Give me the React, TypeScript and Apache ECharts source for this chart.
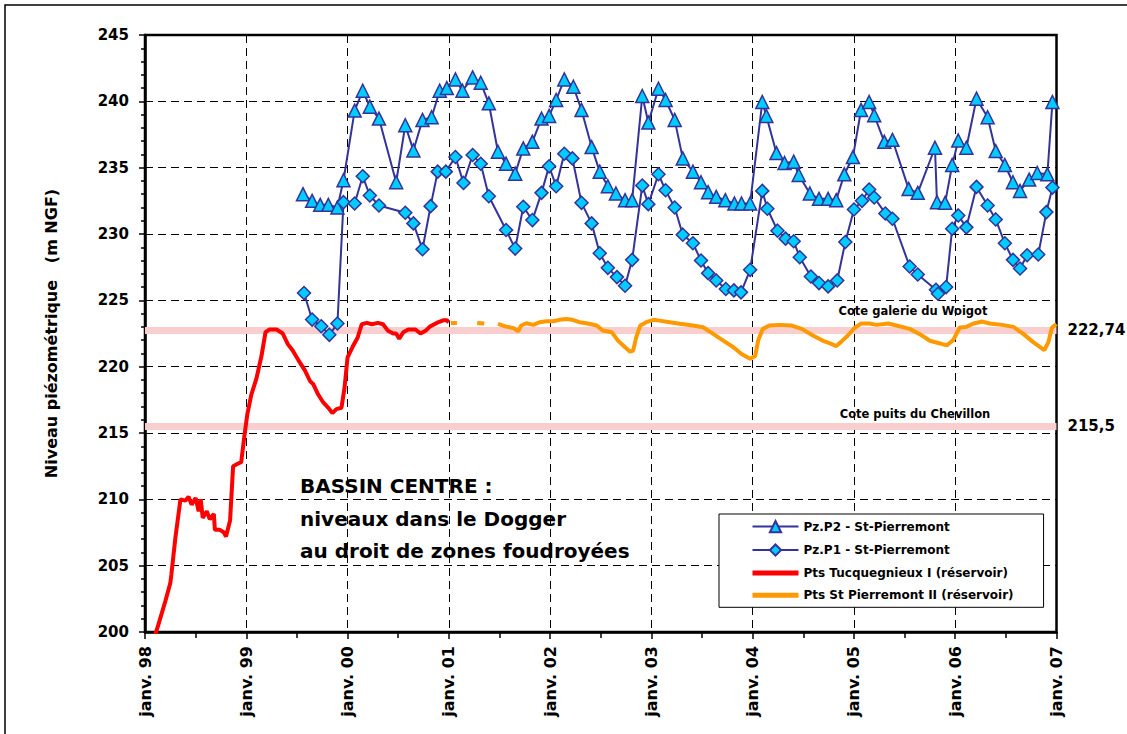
import React, { useEffect, useRef } from "react";
import * as echarts from "echarts";

// ---- Data (decimal years, m NGF) ----
const YEAR_MIN = 1998;
const YEAR_MAX = 2007;
const LEVEL_MIN = 200;
const LEVEL_MAX = 245;

const P2_NAME = "Pz.P2 - St-Pierremont";
const P1_NAME = "Pz.P1 - St-Pierremont";
const RED_NAME = "Pts Tucquegnieux I (réservoir)";
const ORANGE_NAME = "Pts St Pierremont II (réservoir)";

const P2_DATES = [
  1999.56, 1999.65, 1999.73, 1999.81, 1999.9, 1999.96, 2000.07, 2000.15, 2000.22, 2000.31,
  2000.48, 2000.57, 2000.65, 2000.74, 2000.83, 2000.91, 2000.98, 2001.065, 2001.135, 2001.235,
  2001.315, 2001.395, 2001.485, 2001.565, 2001.655, 2001.735, 2001.825, 2001.915, 2001.99, 2002.06,
  2002.14, 2002.23, 2002.31, 2002.41, 2002.49, 2002.57, 2002.65, 2002.74, 2002.81, 2002.91,
  2002.97, 2003.07, 2003.14, 2003.23, 2003.31, 2003.41, 2003.49, 2003.56, 2003.64, 2003.73,
  2003.82, 2003.89, 2003.975, 2004.095, 2004.135, 2004.235, 2004.315, 2004.405, 2004.455, 2004.565,
  2004.655, 2004.745, 2004.825, 2004.905, 2004.99, 2005.07, 2005.15, 2005.2, 2005.3, 2005.38,
  2005.54, 2005.63, 2005.8, 2005.82, 2005.9, 2005.97, 2006.03, 2006.11, 2006.21, 2006.32,
  2006.4, 2006.49, 2006.57, 2006.64, 2006.73, 2006.81, 2006.91, 2006.96,
];
const P2_LEVELS = [
  233.0, 232.5, 232.2, 232.2, 232.0, 234.05, 239.3, 240.8, 239.6, 238.7,
  233.9, 238.2, 236.3, 238.6, 238.8, 240.8, 241.0, 241.65, 240.8, 241.8,
  241.4, 239.85, 236.2, 235.3, 234.55, 236.45, 236.95, 238.7, 238.9, 240.1,
  241.65, 241.1, 239.35, 236.55, 234.7, 233.6, 233.05, 232.55, 232.55, 240.4,
  238.4, 240.95, 240.1, 238.6, 235.7, 234.7, 233.9, 233.15, 232.8, 232.55,
  232.3, 232.3, 232.3, 239.95, 238.9, 236.1, 235.35, 235.45, 234.45, 233.05,
  232.65, 232.65, 232.55, 234.5, 235.8, 239.35, 239.95, 238.95, 236.95, 237.1,
  233.4, 233.1, 236.5, 232.4, 232.35, 235.2, 237.05, 236.5, 240.2, 238.8,
  236.25, 235.2, 233.9, 233.25, 234.1, 234.6, 234.5, 239.95,
];

const P1_DATES = [
  1999.57, 1999.65, 1999.74, 1999.82, 1999.9, 1999.96, 2000.07, 2000.15, 2000.22, 2000.31,
  2000.57, 2000.65, 2000.74, 2000.82, 2000.89, 2000.97, 2001.065, 2001.145, 2001.235, 2001.315,
  2001.395, 2001.565, 2001.655, 2001.735, 2001.825, 2001.915, 2001.99, 2002.06, 2002.14, 2002.22,
  2002.31, 2002.41, 2002.49, 2002.57, 2002.66, 2002.74, 2002.81, 2002.91, 2002.97, 2003.07,
  2003.14, 2003.23, 2003.31, 2003.41, 2003.49, 2003.56, 2003.64, 2003.735, 2003.815, 2003.885,
  2003.975, 2004.095, 2004.145, 2004.245, 2004.325, 2004.405, 2004.465, 2004.575, 2004.655, 2004.745,
  2004.835, 2004.915, 2005.0, 2005.08, 2005.15, 2005.2, 2005.31, 2005.38, 2005.55, 2005.63,
  2005.81, 2005.83, 2005.91, 2005.97, 2006.03, 2006.11, 2006.21, 2006.32, 2006.4, 2006.49,
  2006.57, 2006.64, 2006.71, 2006.82, 2006.9, 2006.96,
];
const P1_LEVELS = [
  225.55, 223.55, 223.05, 222.4, 223.25, 232.4, 232.3, 234.35, 232.9, 232.15,
  231.6, 230.8, 228.85, 232.1, 234.7, 234.7, 235.8, 233.85, 235.95, 235.3,
  232.85, 230.3, 228.9, 232.05, 231.05, 233.1, 235.1, 233.6, 236.05, 235.7,
  232.35, 230.8, 228.55, 227.45, 226.75, 226.1, 228.05, 233.65, 232.25, 234.5,
  233.3, 232.0, 229.95, 229.3, 228.0, 227.05, 226.5, 225.85, 225.75, 225.6,
  227.3, 233.25, 231.9, 230.25, 229.65, 229.45, 228.25, 226.8, 226.3, 226.05,
  226.5, 229.4, 231.85, 232.5, 233.35, 232.75, 231.55, 231.15, 227.55, 226.95,
  225.8, 225.5, 226.0, 230.4, 231.4, 230.5, 233.55, 232.15, 231.1, 229.3,
  228.05, 227.4, 228.4, 228.45, 231.65, 233.5,
];

const RED_DATES = [
  1998.08, 1998.13, 1998.2, 1998.25, 1998.26, 1998.3, 1998.35, 1998.4, 1998.43, 1998.46,
  1998.5, 1998.53, 1998.55, 1998.57, 1998.61, 1998.64, 1998.68, 1998.69, 1998.74, 1998.78,
  1998.8, 1998.84, 1998.87, 1998.92, 1998.95, 1998.98, 1999.01, 1999.05, 1999.1, 1999.15,
  1999.19, 1999.23, 1999.3, 1999.36, 1999.41, 1999.46, 1999.53, 1999.58, 1999.63, 1999.66,
  1999.71, 1999.76, 1999.81, 1999.85, 1999.89, 1999.94, 1999.97, 2000.0, 2000.05, 2000.1,
  2000.14, 2000.19, 2000.24, 2000.3, 2000.35, 2000.4, 2000.45, 2000.48, 2000.51, 2000.55,
  2000.6, 2000.67, 2000.72, 2000.77, 2000.81, 2000.88, 2000.95, 2000.98, 2001.0,
];
const RED_LEVELS = [
  199.3, 200.5, 202.3, 203.7, 204.3, 207.1, 210.0, 209.9, 210.2, 209.6,
  210.1, 209.1, 210.0, 208.6, 209.1, 208.5, 208.9, 207.7, 207.7, 207.5,
  207.2, 208.4, 212.5, 212.7, 212.8, 214.7, 216.4, 217.9, 219.1, 220.8,
  222.6, 222.8, 222.8, 222.5, 221.7, 221.2, 220.3, 219.7, 218.9, 218.7,
  217.9, 217.3, 216.9, 216.5, 216.8, 216.9, 218.4, 220.7, 221.5, 222.2,
  223.2, 223.3, 223.2, 223.3, 223.2, 222.7, 222.5, 222.5, 222.1, 222.6,
  222.8, 222.8, 222.5, 222.7, 223.0, 223.3, 223.5, 223.5, 223.35,
];

// null = gap in the record
const ORANGE_DATES = [
  2001.02, 2001.08, 2001.18, 2001.28, 2001.35, 2001.42, 2001.485, 2001.565, 2001.635, 2001.685,
  2001.715, 2001.765, 2001.835, 2001.895, 2001.965, 2002.03, 2002.09, 2002.16, 2002.22, 2002.29,
  2002.36, 2002.46, 2002.52, 2002.61, 2002.67, 2002.74, 2002.79, 2002.82, 2002.85, 2002.89,
  2002.95, 2003.02, 2003.08, 2003.18, 2003.28, 2003.41, 2003.51, 2003.61, 2003.71, 2003.81,
  2003.89, 2003.975, 2004.025, 2004.055, 2004.1, 2004.165, 2004.265, 2004.385, 2004.485, 2004.595,
  2004.695, 2004.765, 2004.825, 2004.87, 2004.94, 2005.01, 2005.07, 2005.155, 2005.22, 2005.34,
  2005.42, 2005.55, 2005.65, 2005.75, 2005.85, 2005.915, 2005.98, 2006.045, 2006.11, 2006.18,
  2006.27, 2006.34, 2006.46, 2006.575, 2006.675, 2006.77, 2006.88, 2006.92, 2006.955, 2007.0,
];
const ORANGE_LEVELS = [
  223.3, 223.3, null, 223.3, 223.25, null, 223.23, 223.02, 222.92, 222.67,
  223.1, 223.27, 223.15, 223.35, 223.42, 223.42, 223.53, 223.6, 223.53, 223.35,
  223.27, 223.1, 222.72, 222.59, 221.96, 221.46, 221.13, 221.21, 222.21, 223.1,
  223.35, 223.53, 223.47, 223.35, 223.23, 223.1, 222.97, 222.47, 221.96, 221.46,
  220.96, 220.6, 220.8, 222.0, 222.85, 223.1, 223.15, 223.1, 222.85, 222.35,
  221.95, 221.75, 221.55, 221.85, 222.35, 222.95, 223.25, 223.25, 223.15, 223.25,
  223.1, 222.85, 222.45, 221.95, 221.75, 221.6, 222.0, 222.95, 223.0, 223.25,
  223.4, 223.25, 223.15, 223.0, 222.45, 221.85, 221.25, 221.85, 222.95, 223.2,
];

const REF_LEVELS = [222.74, 215.5];
const REF_LABELS = ["222,74", "215,5"];
const REF_NAMES = ["Cote galerie du Woigot", "Cote puits du Chevillon"];

const TITLE_LINES = ["BASSIN CENTRE :", "niveaux dans le Dogger", "au droit de zones foudroyées"];
const Y_NAME = "Niveau piézométrique   (m NGF)";

const FONT = "DejaVu Sans";
const NAVY = "#333399";
const CYAN = "#00CCFF";

const zip = (xs: number[], ys: (number | null)[]) =>
  xs.map((x, i) => [x, ys[i] === null ? "-" : ys[i]]);

export default function App() {
  const ref = useRef<HTMLDivElement>(null);

  useEffect(() => {
    if (!ref.current) return;
    const chart = echarts.init(ref.current, undefined, { renderer: "svg" });

    const dashed = { show: true, lineStyle: { color: "#000", width: 1, type: [8, 5] } };

    const option: any = {
      animation: false,
      backgroundColor: "#fff",
      textStyle: { fontFamily: FONT },
      grid: {
        left: 145,
        right: 70.5,
        top: 35,
        bottom: 102,
        show: true,
        borderColor: "#000",
        borderWidth: 2.5,
        backgroundColor: "transparent",
        containLabel: false,
        outerBoundsMode: "none",
      },
      xAxis: {
        type: "value",
        min: YEAR_MIN,
        max: YEAR_MAX,
        interval: 1,
        axisLine: { show: true, lineStyle: { color: "#000", width: 2.5 } },
        axisTick: { show: true, length: 7, lineStyle: { color: "#000", width: 1.5 } },
        minorTick: { show: true, splitNumber: 2, length: 6, lineStyle: { color: "#000", width: 1.5 } },
        axisLabel: {
          rotate: 90,
          margin: 14,
          fontSize: 16,
          fontWeight: "bold",
          color: "#000",
          fontFamily: FONT,
          formatter: (v: number) => "janv. " + String(Math.round(v) % 100).padStart(2, "0"),
        },
        splitLine: dashed,
      },
      yAxis: {
        type: "value",
        min: LEVEL_MIN,
        max: LEVEL_MAX,
        interval: 5,
        name: Y_NAME,
        nameLocation: "middle",
        nameGap: 86,
        nameTextStyle: { fontSize: 16, fontWeight: "bold", color: "#000", fontFamily: FONT },
        axisLine: { show: true, lineStyle: { color: "#000", width: 2.5 } },
        axisTick: { show: true, length: 6, lineStyle: { color: "#000", width: 1.5 } },
        minorTick: { show: true, splitNumber: 5, length: 4, lineStyle: { color: "#000", width: 1.5 } },
        axisLabel: { margin: 16, fontSize: 15, fontWeight: "bold", color: "#000", fontFamily: FONT },
        splitLine: dashed,
      },
      legend: {
        orient: "vertical",
        left: 719,
        top: 514,
        backgroundColor: "#fff",
        borderColor: "#000",
        borderWidth: 1,
        padding: [6, 30, 6, 31],
        itemWidth: 46,
        itemHeight: 14,
        itemGap: 10.3,
        textStyle: { fontSize: 12, fontWeight: "bold", color: "#000", fontFamily: FONT },
        data: [
          P2_NAME,
          P1_NAME,
          { name: RED_NAME, itemStyle: { opacity: 0 }, lineStyle: { width: 5 } },
          { name: ORANGE_NAME, itemStyle: { opacity: 0 }, lineStyle: { width: 5 } },
        ],
      },
      series: [
        {
          name: RED_NAME,
          type: "line",
          data: zip(RED_DATES, RED_LEVELS),
          symbol: "none",
          showSymbol: false,
          z: 3,
          lineStyle: { color: "#FF0000", width: 4 },
          itemStyle: { color: "#FF0000" },
          markLine: {
            silent: true,
            z: 1,
            symbol: ["none", "none"],
            animation: false,
            lineStyle: { color: "#F8CECE", width: 7, type: "solid", opacity: 1 },
            label: {
              show: true,
              position: "end",
              distance: 11,
              color: "#000",
              fontSize: 15,
              fontWeight: "bold",
              fontFamily: FONT,
            },
            data: REF_LEVELS.map((v, i) => ({ yAxis: v, label: { formatter: REF_LABELS[i] } })),
          },
        },
        {
          name: ORANGE_NAME,
          type: "line",
          data: zip(ORANGE_DATES, ORANGE_LEVELS),
          symbol: "none",
          showSymbol: false,
          connectNulls: false,
          z: 3,
          lineStyle: { color: "#FF9900", width: 4 },
          itemStyle: { color: "#FF9900" },
        },
        {
          name: P2_NAME,
          type: "line",
          data: zip(P2_DATES, P2_LEVELS),
          symbol: "triangle",
          symbolSize: 13,
          z: 4,
          lineStyle: { color: NAVY, width: 2 },
          itemStyle: { color: CYAN, borderColor: NAVY, borderWidth: 1.5 },
        },
        {
          name: P1_NAME,
          type: "line",
          data: zip(P1_DATES, P1_LEVELS),
          symbol: "diamond",
          symbolSize: 13,
          z: 4,
          lineStyle: { color: NAVY, width: 2 },
          itemStyle: { color: CYAN, borderColor: NAVY, borderWidth: 1.5 },
        },
      ],
      graphic: [
        {
          type: "rect",
          silent: true,
          z: 100,
          shape: { x: 5, y: 5, width: 1140, height: 750 },
          style: { fill: "none", stroke: "#000", lineWidth: 1.5 },
        },
        ...TITLE_LINES.map((t, i) => ({
          type: "text",
          silent: true,
          z: 100,
          x: 300,
          y: 486 + i * 32.5,
          style: {
            text: t,
            fill: "#000",
            font: `bold 20px "${FONT}"`,
            textAlign: "left",
            textVerticalAlign: "middle",
          },
        })),
        {
          type: "text",
          silent: true,
          z: 100,
          x: 913,
          y: 311,
          style: {
            text: REF_NAMES[0],
            fill: "#000",
            font: `bold 11.5px "${FONT}"`,
            textAlign: "center",
            textVerticalAlign: "middle",
          },
        },
        {
          type: "text",
          silent: true,
          z: 100,
          x: 915,
          y: 414,
          style: {
            text: REF_NAMES[1],
            fill: "#000",
            font: `bold 11.5px "${FONT}"`,
            textAlign: "center",
            textVerticalAlign: "middle",
          },
        },
      ],
    };

    chart.setOption(option);
    return () => chart.dispose();
  }, []);

  return (
    <div
      ref={ref}
      style={{ position: "absolute", left: 0, top: 0, width: 1127, height: 734, background: "#fff" }}
    />
  );
}
